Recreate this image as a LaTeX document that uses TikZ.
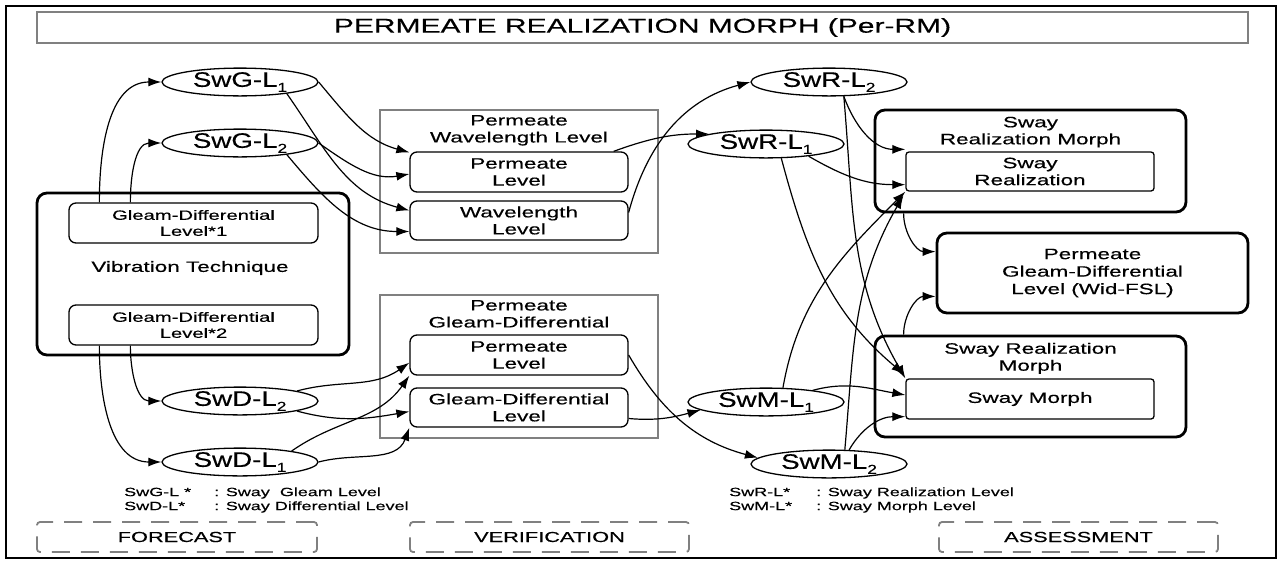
\documentclass[tikz,border=0pt]{standalone}
\usepackage{fontspec}
\setmainfont{Liberation Sans}[FakeStretch=1.5,FakeBold=0.4]
\newfontfamily\ellfont{Liberation Sans}[FakeStretch=1.32,FakeBold=0.4]
\usetikzlibrary{arrows.meta,positioning,calc,shapes.geometric}
\newcommand{\fsz}[2]{\fontsize{#1}{#2}\selectfont}
\newcommand{\lsub}[1]{\raisebox{-5pt}{\fsz{13}{13}#1}}

\begin{document}
\begin{tikzpicture}[x=1pt,y=1pt,
  frame/.style={draw=black,line width=2.5pt},
  graybox/.style={draw=black!50,line width=2.2pt,inner sep=0pt},
  dashbox/.style={draw=black!50,line width=1.8pt,dash pattern=on 18pt off 11pt,rounded corners=3pt,inner sep=0pt,font=\fsz{14.5}{17}},
  thickbox/.style={draw=black,line width=2.8pt,rounded corners=10pt,inner sep=0pt,align=center,font=\fsz{15}{17.5}},
  lvlbox/.style={draw=black,line width=1.3pt,rounded corners=7pt,inner sep=0pt,align=center,font=\fsz{15}{17}},
  swell/.style={ellipse,draw=black,line width=1.3pt,minimum width=156pt,minimum height=27pt,inner sep=0pt,font=\ellfont\fsz{21}{22}},
  hdr/.style={align=center,inner sep=0pt,font=\fsz{15}{17}},
  conn/.style={-{Latex[length=13pt,width=9pt]},line width=1.2pt},
]
\useasboundingbox (0,0) rectangle (1279,-560);
\draw[frame] (6,-6) rectangle (1276,-558);
\node[graybox,minimum width=1211pt,minimum height=31pt,font=\fsz{20}{22}] (title) at (642.5,-27.5) {PERMEATE REALIZATION MORPH (Per-RM)};

% forecast
\node[thickbox,minimum width=312pt,minimum height=162pt] (vib) at (193,-274) {};
\node[hdr] (vibt) at (190,-268) {Vibration Technique};
\node[lvlbox,font=\fsz{13.5}{16},minimum width=249pt,minimum height=40pt] (gd1) at (193.5,-223) {Gleam-Differential\\Level*1};
\node[lvlbox,font=\fsz{13.5}{16},minimum width=249pt,minimum height=40pt] (gd2) at (193.5,-325) {Gleam-Differential\\Level*2};
\node[swell] (swg1) at (240,-82) {SwG-L\lsub{1}};
\node[swell] (swg2) at (240,-143) {SwG-L\lsub{2}};
\node[swell] (swd2) at (240,-401) {SwD-L\lsub{2}};
\node[swell] (swd1) at (240,-462) {SwD-L\lsub{1}};

% verification
\node[graybox,minimum width=278pt,minimum height=143pt] (pwl) at (519,-181.5) {};
\node[hdr,below=6pt of pwl.north] (pwlt) {Permeate\\Wavelength Level};
\node[lvlbox,minimum width=218pt,minimum height=40pt] (pl1) at (519,-172) {Permeate\\Level};
\node[lvlbox,minimum width=218pt,minimum height=39pt] (wl) at (519,-220.5) {Wavelength\\Level};
\node[graybox,minimum width=278pt,minimum height=143pt] (pgd) at (519,-366.5) {};
\node[hdr,below=6pt of pgd.north] (pgdt) {Permeate\\Gleam-Differential};
\node[lvlbox,minimum width=218pt,minimum height=40pt] (pl2) at (519,-355) {Permeate\\Level};
\node[lvlbox,minimum width=218pt,minimum height=39pt] (gdl) at (519,-407.5) {Gleam-Differential\\Level};
\node[swell] (swr2) at (829,-82) {SwR-L\lsub{2}};
\node[swell] (swr1) at (766,-144) {SwR-L\lsub{1}};
\node[swell] (swm1) at (766,-402) {SwM-L\lsub{1}};
\node[swell] (swm2) at (829,-464) {SwM-L\lsub{2}};

% assessment
\node[thickbox,minimum width=311pt,minimum height=102pt] (srm) at (1030.5,-161) {};
\node[hdr,below=8pt of srm.north] (srmt) {Sway\\Realization Morph};
\node[lvlbox,rounded corners=3pt,minimum width=248pt,minimum height=39pt] (sr) at (1030,-171.5) {Sway\\Realization};
\node[thickbox,minimum width=311pt,minimum height=80pt] (pgdl) at (1092.5,-273) {Permeate\\Gleam-Differential\\Level (Wid-FSL)};
\node[thickbox,minimum width=311pt,minimum height=101pt] (srm2) at (1030.5,-386.5) {};
\node[hdr,below=8pt of srm2.north] (srm2t) {Sway Realization\\Morph};
\node[lvlbox,rounded corners=3pt,minimum width=248pt,minimum height=40pt] (sm) at (1030,-399) {Sway Morph};

% legends
\node[anchor=west,inner sep=0pt,align=left,font=\fsz{12}{14}] (legl) at (124,-500) {\makebox[90pt][l]{SwG-L *}: Sway\ \ Gleam Level\\\makebox[90pt][l]{SwD-L*}: Sway Differential Level};
\node[anchor=west,inner sep=0pt,align=left,font=\fsz{12}{14}] (legr) at (729,-500) {\makebox[87pt][l]{SwR-L*}: Sway Realization Level\\\makebox[87pt][l]{SwM-L*}: Sway Morph Level};

\node[dashbox,minimum width=280pt,minimum height=30pt] (fc) at (177,-537) {FORECAST};
\node[dashbox,minimum width=279pt,minimum height=30pt] (vf) at (549.5,-537) {VERIFICATION};
\node[dashbox,minimum width=279pt,minimum height=30pt] (as) at (1078.5,-537) {ASSESSMENT};

% forecast links
\draw[conn] ($(gd1.north west)+(31,0)$) to[out=90,in=180] (swg1.west);
\draw[conn] ($(gd1.north west)+(62,0)$) to[out=90,in=180] (swg2.west);
\draw[conn] ($(gd2.south west)+(31,0)$) to[out=-90,in=180] (swd1.west);
\draw[conn] ($(gd2.south west)+(62,0)$) to[out=-90,in=180] (swd2.west);
\draw[conn] (swg1.east) to[out=-50,in=165] ($(pl1.north west)+(0,-1)$);
\draw[conn] (swg1.-14) to[out=-55,in=165] ($(wl.west)+(0,10)$);
\draw[conn] (swg2.east) to[out=-35,in=190] ($(pl1.west)+(0,-2)$);
\draw[conn] (swg2.-14) to[out=-50,in=180] ($(wl.west)+(0,-11)$);
\draw[conn] (swd2.10) to[out=15,in=215] ($(pl2.south west)+(0,13)$);
\draw[conn] (swd2.-10) to[out=-15,in=190] ($(gdl.west)+(0,-4)$);
\draw[conn] (swd1.12) to[out=35,in=235] (pl2.south west);
\draw[conn] (swd1.east) to[out=15,in=250] (gdl.south west);

% verification links
\draw[conn] ($(pl1.north east)+(-15,0)$) to[out=20,in=180] (swr1.170);
\draw[conn] ($(wl.east)+(0,8)$) to[out=75,in=195] (swr2.west);
\draw[conn] (pl2.east) to[out=-60,in=165] (swm2.175);
\draw[conn] ($(gdl.east)+(0,-11)$) to[out=-5,in=195] (swm1.187);

% assessment links
\draw[conn] (swr2.-44) to[out=-70,in=180] ($(sr.north west)+(0,2)$);
\draw[conn] (swr1.-16) to[out=-30,in=180] ($(sr.south west)+(0,7)$);
\draw[conn] (swm1.40) to[out=80,in=225] (sr.south west);
\draw[conn] (swm2.42) to[out=85,in=240] ($(sr.south west)+(-2,-4)$);
\draw[conn] (swr1.-43) to[out=-75,in=140] ($(sm.north west)+(-1,4)$);
\draw[conn] (swr2.-44) to[out=-85,in=120] (sm.north west);
\draw[conn] (swm1.14) to[out=15,in=170] ($(sm.west)+(0,4)$);
\draw[conn] (swm2.35) to[out=60,in=180] ($(sm.south west)+(0,3)$);
\draw[conn] ($(srm.south west)+(30,0)$) to[out=-90,in=180] ($(pgdl.north west)+(0,-20)$);
\draw[conn] ($(srm2.north west)+(30,0)$) to[out=90,in=180] ($(pgdl.south west)+(0,18)$);
\end{tikzpicture}
\end{document}
